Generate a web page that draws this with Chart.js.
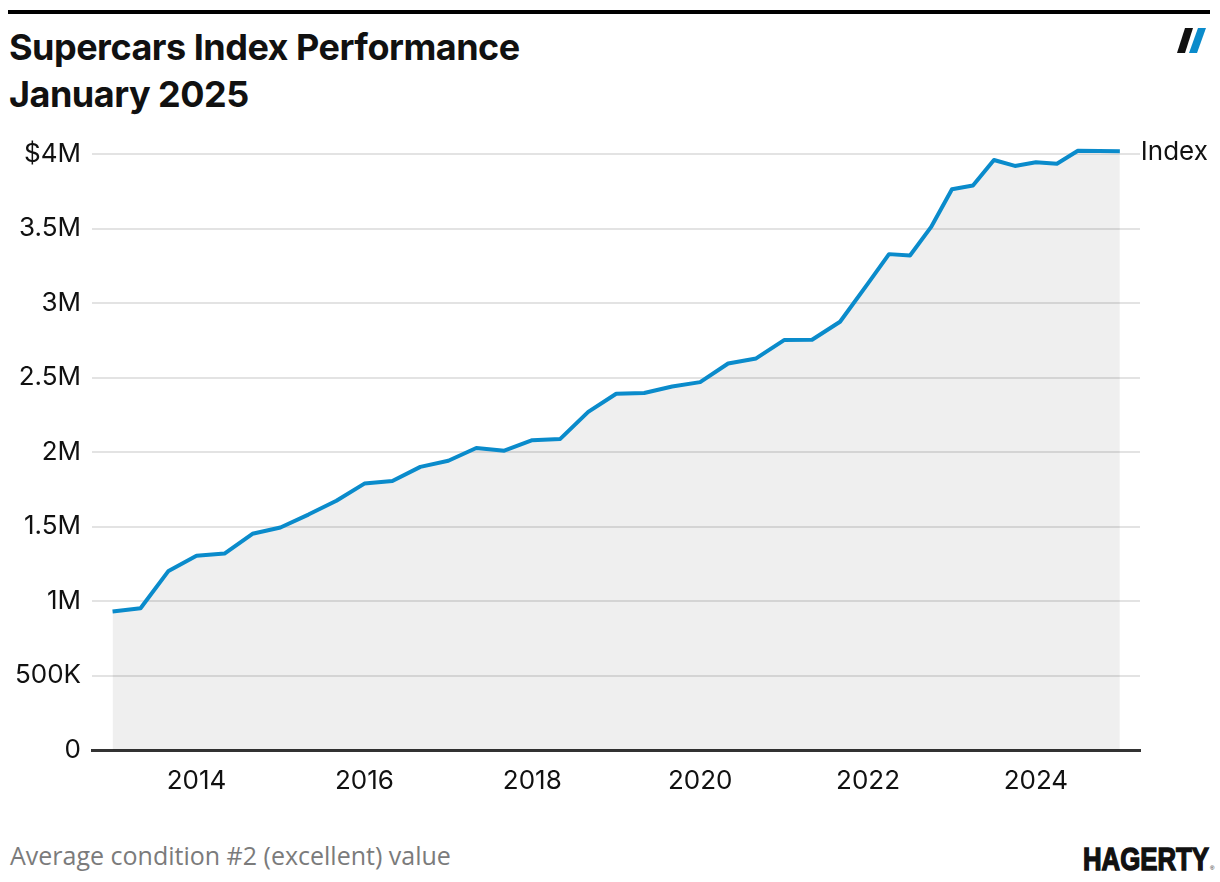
<!DOCTYPE html>
<html>
<head>
<meta charset="utf-8">
<script src="https://cdn.jsdelivr.net/npm/chart.js@4.4.1/dist/chart.umd.min.js"></script>
<style>
  html, body { margin: 0; padding: 0; background: #fff; }
  #page { position: relative; width: 1220px; height: 882px; overflow: hidden; }
  #rule { position: absolute; left: 8px; top: 10px; width: 1202px; height: 4px; background: #000; }
  #title { position: absolute; left: 9px; top: 24px; font-family: Inter, "Noto Sans", sans-serif; font-weight: 700;
           font-size: 36px; line-height: 47px; color: #111; letter-spacing: -0.5px; }
  #mark { position: absolute; left: 1170px; top: 24px; }
  #wrap { position: absolute; left: 0; top: 120px; width: 1220px; height: 680px; }
  #note { position: absolute; left: 10px; top: 838px; font-family: "Open Sans", sans-serif; font-size: 25px; color: #7b7b7b; }
  #logo { position: absolute; left: 1080px; top: 842px; }
</style>
</head>
<body>
<div id="page">
  <div id="rule"></div>
  <div id="title">Supercars Index Performance<br>January 2025</div>
  <svg id="mark" width="44" height="34">
    <polygon points="15,4 23,4 15,29 7,29" fill="#111"/>
    <polygon points="28,4 36,4 27,29 19,29" fill="#0a8bcb"/>
  </svg>
  <div id="wrap"><canvas id="chart"></canvas></div>
  <div id="note">Average condition #2 (excellent) value</div>
  <svg id="logo" width="136" height="32">
    <text x="3" y="28" textLength="126" lengthAdjust="spacingAndGlyphs" stroke="#111" stroke-width="1.4"
          font-family="Liberation Sans Narrow, Liberation Sans, sans-serif" font-weight="700" font-size="32" fill="#111">HAGERTY</text>
    <text x="130" y="28" font-family="Liberation Sans, sans-serif" font-size="6" fill="#111">®</text>
  </svg>
</div>
<script>
// index values, Jan/May/Sep until 2022, then quarterly
var dates = ['2013-01','2013-05','2013-09','2014-01','2014-05','2014-09','2015-01','2015-05','2015-09',
  '2016-01','2016-05','2016-09','2017-01','2017-05','2017-09','2018-01','2018-05','2018-09',
  '2019-01','2019-05','2019-09','2020-01','2020-05','2020-09','2021-01','2021-05','2021-09',
  '2022-01','2022-04','2022-07','2022-10','2023-01','2023-04','2023-07','2023-10',
  '2024-01','2024-04','2024-07','2024-10','2025-01'];
var index = [929000, 951000, 1202000, 1304000, 1318000, 1451000, 1493000, 1580000, 1673000,
  1788000, 1805000, 1900000, 1941000, 2027000, 2009000, 2079000, 2088000, 2269000,
  2391000, 2396000, 2440000, 2469000, 2594000, 2628000, 2751000, 2753000, 2874000,
  3132000, 3328000, 3319000, 3509000, 3763000, 3788000, 3960000, 3920000,
  3944000, 3935000, 4022000, 4020000, 4018000];
var yearTicks = [2014, 2016, 2018, 2020, 2022, 2024];
var seriesName = 'Index';

var points = dates.map(function(d, i) {
  var p = d.split('-');
  return { x: +p[0] + (+p[1] - 1) / 12, y: index[i] };
});

var tickFont = { family: 'Inter, "Noto Sans", sans-serif', size: 26 };

var endLabel = {
  id: 'endLabel',
  afterDatasetsDraw: function(chart) {
    var meta = chart.getDatasetMeta(0);
    var last = meta.data[meta.data.length - 1];
    var ctx = chart.ctx;
    ctx.save();
    ctx.font = '26px Inter, "Noto Sans", sans-serif';
    ctx.fillStyle = '#111';
    ctx.textAlign = 'left';
    ctx.textBaseline = 'middle';
    ctx.fillText(seriesName, last.x + 21, last.y + 1);
    ctx.restore();
  }
};

var chart = new Chart('chart', {
  type: 'line',
  plugins: [endLabel],
  data: {
    datasets: [{
      label: seriesName,
      data: points,
      borderColor: '#0a8bcb',
      borderWidth: 4,
      backgroundColor: 'rgba(0,0,0,0.063)',
      fill: 'origin',
      clip: false,
      pointRadius: 0,
      tension: 0,
      borderJoinStyle: 'round'
    }]
  },
  options: {
    responsive: true,
    maintainAspectRatio: false,
    animation: false,
    layout: { padding: { top: 34, right: 80, left: 0, bottom: 0 } },
    plugins: { legend: { display: false }, tooltip: { enabled: false } },
    scales: {
      x: {
        type: 'linear',
        min: 2012.755,
        max: 2025.24,
        afterBuildTicks: function(s) { s.ticks = yearTicks.map(function(v) { return { value: v }; }); },
        afterFit: function(s) { s.height = 50; },
        grid: { display: false },
        border: { display: true, color: '#333', width: 3 },
        ticks: { font: tickFont, color: '#111', padding: 8, maxRotation: 0,
                 callback: function(v) { return String(v); } }
      },
      y: {
        min: 0,
        max: 4000000,
        afterFit: function(s) { s.width = 92; },
        grid: { color: '#e3e3e3', lineWidth: 2, drawTicks: false },
        border: { display: false },
        ticks: {
          stepSize: 500000, font: tickFont, color: '#111', padding: 11,
          callback: function(v) {
            if (v === 4000000) return '$4M';
            if (v === 0) return '0';
            if (v >= 1000000) return (v / 1000000) + 'M';
            return (v / 1000) + 'K';
          }
        }
      }
    }
  }
});
</script>
</body>
</html>
